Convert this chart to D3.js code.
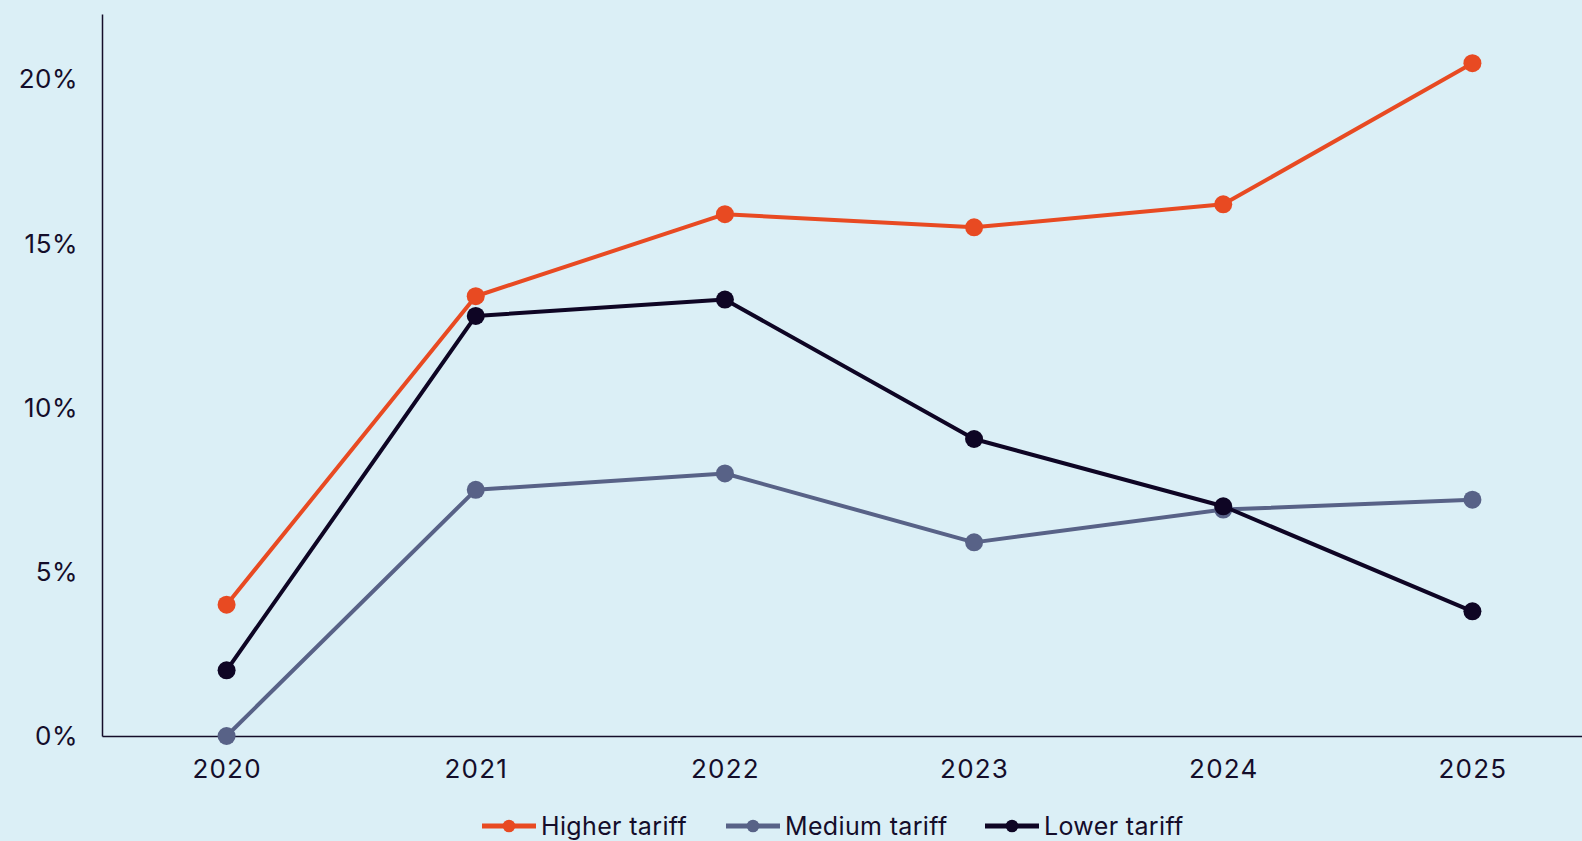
<!DOCTYPE html>
<html>
<head>
<meta charset="utf-8">
<script src="https://cdn.jsdelivr.net/npm/d3@7"></script>
<style>
  html, body { margin: 0; padding: 0; background: #dbeff6; overflow: hidden; }
  svg { display: block; font-family: Inter, "DejaVu Sans", sans-serif; }
</style>
</head>
<body>
<svg id="chart" width="1582" height="841"></svg>
<script>
// Share of imports by tariff band, per year (%)
const years = ["2020", "2021", "2022", "2023", "2024", "2025"];
const higherTariff = [4.0, 13.4, 15.9, 15.5, 16.2, 20.5];
const mediumTariff = [0.0, 7.5, 8.0, 5.9, 6.9, 7.2];
const lowerTariff = [2.0, 12.8, 13.3, 9.05, 7.0, 3.8];
const seriesNames = ["Higher tariff", "Medium tariff", "Lower tariff"];
const yTicks = [0, 5, 10, 15, 20];

const colors = ["#e84a22", "#586287", "#0e0524"];
const seriesValues = [higherTariff, mediumTariff, lowerTariff];

const W = 1582, H = 841;
const plotLeft = 102, plotBottom = 736, plotTop = 14;
const ink = "#140d2a";

const svg = d3.select("#chart");
svg.append("rect").attr("width", W).attr("height", H).attr("fill", "#dbeff6");

const x = d3.scalePoint().domain(years).range([plotLeft, 1597]).padding(0.5);
const y = d3.scaleLinear().domain([0, 22]).range([plotBottom, plotTop]);

// y axis: line plus percentage labels
const yAxis = svg.append("g")
  .attr("transform", `translate(${plotLeft},0)`)
  .call(d3.axisLeft(y).tickValues(yTicks).tickSize(0).tickPadding(24)
    .tickFormat(d => d + "%"));
yAxis.select(".domain").attr("stroke", ink).attr("stroke-width", 1.5);
yAxis.selectAll("text").attr("font-size", 26).attr("fill", ink)
  .attr("font-family", "Inter, sans-serif").attr("letter-spacing", 0.5);

// x axis
const xAxis = svg.append("g")
  .attr("transform", `translate(0,${plotBottom})`)
  .call(d3.axisBottom(x).tickSize(0).tickPadding(24));
xAxis.select(".domain").attr("stroke", ink).attr("stroke-width", 1.5);
xAxis.selectAll("text").attr("font-size", 26).attr("fill", ink)
  .attr("font-family", "Inter, sans-serif").attr("letter-spacing", 1.2);

// series lines and markers
const line = d3.line().x((d, i) => x(years[i])).y(d => y(d));
seriesValues.forEach((vals, s) => {
  const g = svg.append("g");
  g.append("path").datum(vals)
    .attr("d", line)
    .attr("fill", "none")
    .attr("stroke", colors[s])
    .attr("stroke-width", 4)
    .attr("stroke-linejoin", "round");
  g.selectAll("circle").data(vals).join("circle")
    .attr("cx", (d, i) => x(years[i]))
    .attr("cy", d => y(d))
    .attr("r", 9)
    .attr("fill", colors[s]);
});

// legend
const legendX = [482, 726, 985];
const legendY = 826;
seriesNames.forEach((name, s) => {
  const g = svg.append("g").attr("transform", `translate(${legendX[s]},${legendY})`);
  g.append("line").attr("x1", 0).attr("x2", 54).attr("y1", 0).attr("y2", 0)
    .attr("stroke", colors[s]).attr("stroke-width", 5);
  g.append("circle").attr("cx", 27).attr("cy", 0).attr("r", 6.3).attr("fill", colors[s]);
  g.append("text").attr("x", 59).attr("y", 8.5)
    .attr("font-size", 25).attr("fill", ink)
    .attr("font-family", "Inter, sans-serif").attr("letter-spacing", 0.35)
    .text(name);
});
</script>
</body>
</html>
